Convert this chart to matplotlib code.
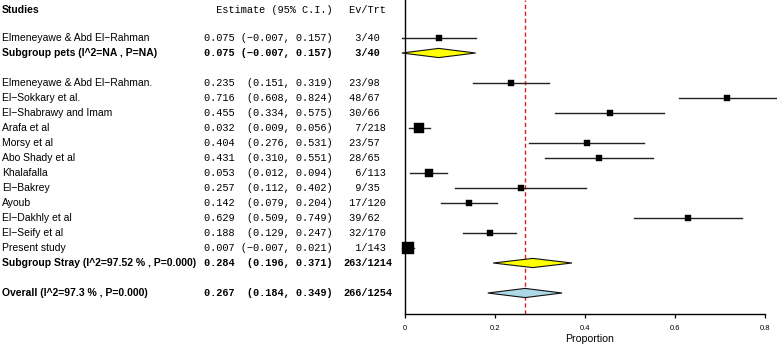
import matplotlib
matplotlib.use("Agg")
import matplotlib.pyplot as plt
from matplotlib.transforms import blended_transform_factory
import numpy as np

# ---------------- data ----------------
studies = ["Elmeneyawe & Abd El\u2212Rahman",
           "Elmeneyawe & Abd El\u2212Rahman.", "El\u2212Sokkary et al.", "El\u2212Shabrawy and Imam",
           "Arafa et al", "Morsy et al", "Abo Shady et al", "Khalafalla", "El\u2212Bakrey",
           "Ayoub", "El\u2212Dakhly et al", "El\u2212Seify et al", "Present study"]
est   = [0.075, 0.235, 0.716, 0.455, 0.032, 0.404, 0.431, 0.053, 0.257, 0.142, 0.629, 0.188, 0.007]
lower = [-0.007, 0.151, 0.608, 0.334, 0.009, 0.276, 0.310, 0.012, 0.112, 0.079, 0.509, 0.129, -0.007]
upper = [0.157, 0.319, 0.824, 0.575, 0.056, 0.531, 0.551, 0.094, 0.402, 0.204, 0.749, 0.247, 0.021]
events = [3, 23, 48, 30, 7, 23, 28, 6, 9, 17, 39, 32, 1]
totals = [40, 98, 67, 66, 218, 57, 65, 113, 35, 120, 62, 170, 143]
weights = [38, 38, 30, 31, 100, 26, 30, 60, 27, 42, 30, 46, 161]  # relative box area
rows = [0, 3, 4, 5, 6, 7, 8, 9, 10, 11, 12, 13, 14]

summ_labels = ["Subgroup pets (I^2=NA , P=NA)",
               "Subgroup Stray (I^2=97.52 % , P=0.000)",
               "Overall (I^2=97.3 % , P=0.000)"]
summ_est   = [0.075, 0.284, 0.267]
summ_lower = [-0.007, 0.196, 0.184]
summ_upper = [0.157, 0.371, 0.349]
summ_events = [3, 263, 266]
summ_totals = [40, 1214, 1254]
summ_rows = [1, 15, 17]
summ_colors = ["#FFFF00", "#FFFF00", "#ADD8E6"]

xticks = [0, 0.2, 0.4, 0.6, 0.8]
xtick_labels = ["0", "0.2", "0.4", "0.6", "0.8"]
overall_line = 0.267

# ---------------- figure ----------------
W, H = 777, 345
fig = plt.figure(figsize=(W / 100, H / 100), dpi=100)
ax = fig.add_axes([405 / W, 1 - 314 / H, 360 / W, 314 / H])
ax.set_xlim(0, 0.8)
row_px = 15.0
y0_px = 38.0
ax.set_ylim((314 - y0_px) / row_px, -y0_px / row_px)

for s in ["top", "right"]:
    ax.spines[s].set_visible(False)
ax.spines["left"].set_linewidth(1.0)
ax.spines["bottom"].set_linewidth(1.0)
ax.set_yticks([])
ax.set_xticks(xticks)
ax.set_xticklabels(xtick_labels, fontsize=5.5, family="Liberation Sans")
ax.tick_params(axis="x", length=3, width=0.9, pad=5)
ax.set_xlabel("Proportion", fontsize=7.6, family="Liberation Sans")
ax.xaxis.set_label_coords(0.514, -0.065, transform=ax.transAxes)
ax.xaxis.label.set_va("top")

# reference line
ax.axvline(overall_line, color="#e02020", linestyle=(0, (3, 2)), linewidth=1.0, zorder=1)

# studies
for r, e, lo, hi, w in zip(rows, est, lower, upper, weights):
    ax.plot([lo, hi], [r, r], color="#222222", linewidth=1.0, clip_on=False, zorder=2)
    side_pt = np.sqrt(w) * 0.72
    ax.scatter([e], [r], marker="s", s=side_pt ** 2, color="black", linewidths=0.3,
               edgecolors="black", clip_on=False, zorder=3)

# diamonds
half_h = 4.6 / row_px
for r, e, lo, hi, c in zip(summ_rows, summ_est, summ_lower, summ_upper, summ_colors):
    ax.fill([lo, e, hi, e], [r, r - half_h, r, r + half_h], facecolor=c,
            edgecolor="#111111", linewidth=0.8, clip_on=False, zorder=3)

# text columns
tr = blended_transform_factory(fig.transFigure, ax.transData)
name_fs = 7.45
mono_fs = 7.35
x_name = 2 / W
x_est = 204 / W
x_ev = 343 / W
header_row = (10 - y0_px) / row_px

ax.text(x_name, header_row, "Studies", transform=tr, fontsize=name_fs, fontweight="bold",
        family="Liberation Sans", va="center", ha="left")
ax.text(x_est, header_row, "  Estimate (95% C.I.)", transform=tr, fontsize=mono_fs,
        family="Liberation Mono", va="center", ha="left")
ax.text(x_ev, header_row, " Ev/Trt", transform=tr, fontsize=mono_fs,
        family="Liberation Mono", va="center", ha="left")


def est_str(e, lo, hi):
    a = f"{lo:.3f}".replace("-", "\u2212")
    b = f"{hi:.3f}".replace("-", "\u2212")
    ci = f"({a}, {b})"
    return f"{e:.3f} {ci:>15}"


def draw_row(r, name, e, lo, hi, ev, tot, bold):
    fw = "bold" if bold else "normal"
    ax.text(x_name, r, name, transform=tr, fontsize=name_fs, fontweight=fw,
            family="Liberation Sans", va="center", ha="left")
    ax.text(x_est, r, est_str(e, lo, hi), transform=tr, fontsize=mono_fs, fontweight=fw,
            family="Liberation Mono", va="center", ha="left")
    ax.text(x_ev, r, f"{ev:>3}/{tot}", transform=tr, fontsize=mono_fs, fontweight=fw,
            family="Liberation Mono", va="center", ha="left")


for r, n, e, lo, hi, ev, tot in zip(rows, studies, est, lower, upper, events, totals):
    draw_row(r, n, e, lo, hi, ev, tot, False)
for r, n, e, lo, hi, ev, tot in zip(summ_rows, summ_labels, summ_est, summ_lower,
                                    summ_upper, summ_events, summ_totals):
    draw_row(r, n, e, lo, hi, ev, tot, True)

fig.savefig("out.png", dpi=100)
